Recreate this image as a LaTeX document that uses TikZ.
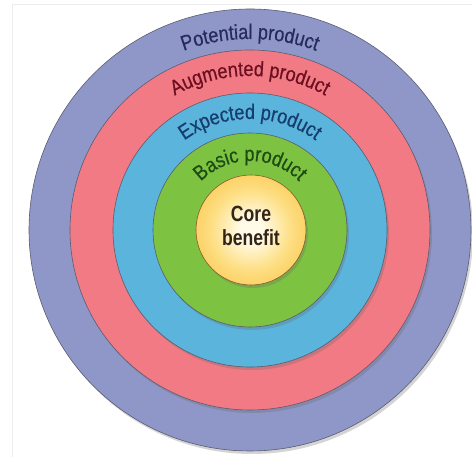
\documentclass[tikz,border=0pt]{standalone}
\usepackage{fontspec}
\setmainfont{Liberation Sans}
\newfontfamily\ringfont{Liberation Sans}[FakeStretch=0.86, FakeBold=0.4]
\newfontfamily\corefont{Liberation Sans}[FakeStretch=0.8]
\usetikzlibrary{decorations.text,shadows}

% ring fills
\definecolor{potentialfill}{HTML}{8F97C8}
\definecolor{augmentedfill}{HTML}{F27A84}
\definecolor{expectedfill}{HTML}{5AB4DC}
\definecolor{basicfill}{HTML}{7DC341}
% ring label colours
\definecolor{potentialtext}{HTML}{262B5C}
\definecolor{augmentedtext}{HTML}{6B1020}
\definecolor{expectedtext}{HTML}{163D6E}
\definecolor{basictext}{HTML}{1E4A14}
% core colours
\definecolor{coreinner}{HTML}{FFFBE8}
\definecolor{corelight}{HTML}{FDDF85}
\definecolor{coremid}{HTML}{FAC240}
\definecolor{coreouter}{HTML}{F09C20}
\definecolor{coretext}{HTML}{33241A}
\definecolor{ringline}{HTML}{5A5C70}

\pgfdeclareradialshading{coreglow}{\pgfpoint{0bp}{0bp}}{%
  color(0bp)=(coreinner); color(5bp)=(coreinner);
  color(18bp)=(corelight); color(34bp)=(coremid); color(50bp)=(coreouter)}

\tikzset{
  ring/.style={circle, inner sep=0pt, outer sep=0pt, draw=ringline,
    line width=0.6pt,
    drop shadow={shadow xshift=2pt, shadow yshift=-3pt, opacity=0.28, fill=black!60}},
  ringlabel/.style 2 args={decorate, decoration={text along path,
    text align=center, text={|\ringfont\fontsize{21}{24}\selectfont\color{#1}|#2}}}
}

\begin{document}
\begin{tikzpicture}[x=1pt, y=1pt]
  \useasboundingbox (0,0) rectangle (472,457);
  \fill[white] (0,0) rectangle (472,457);
  % faint frame edges
  \draw[black!7, line width=0.8pt] (12,0) -- (12,453) -- (472,453);

  \coordinate (C) at (250,227);

  % nested rings, outermost first
  \node[ring, fill=potentialfill, minimum size=442pt] (potential) at (C) {};
  \node[ring, fill=augmentedfill, minimum size=360pt] (augmented) at (C) {};
  \node[ring, fill=expectedfill, minimum size=274pt] (expected) at (C) {};
  \node[ring, fill=basicfill, minimum size=194pt] (basic) at (C) {};
  \node[ring, shading=coreglow, draw=brown!70!black, minimum size=110pt] (core) at (251,227) {};

  % curved ring labels
  \path[ringlabel={potentialtext}{Potential product}]
    ([shift={(170:191)}]C) arc[start angle=170, end angle=10, radius=191];
  \path[ringlabel={augmentedtext}{Augmented product}]
    ([shift={(170:154)}]C) arc[start angle=170, end angle=10, radius=154];
  \path[ringlabel={expectedtext}{Expected product}]
    ([shift={(170:111)}]C) arc[start angle=170, end angle=10, radius=111];
  \path[ringlabel={basictext}{Basic product}]
    ([shift={(170:69)}]C) arc[start angle=170, end angle=10, radius=69];

  % centre label
  \node[font=\corefont\bfseries\fontsize{22}{24}\selectfont, text=coretext,
        align=center, inner sep=0pt] (coretxt) at (251,231) {Core\\benefit};
\end{tikzpicture}
\end{document}
